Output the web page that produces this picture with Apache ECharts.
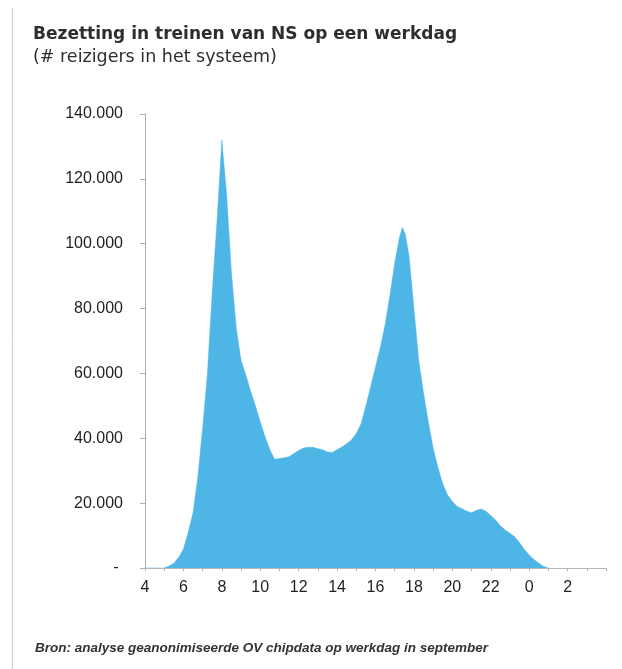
<!DOCTYPE html>
<html>
<head>
<meta charset="utf-8">
<style>
html,body{margin:0;padding:0;background:#ffffff;}
#chart{width:622px;height:669px;}
</style>
<script src="https://cdn.jsdelivr.net/npm/echarts@6/dist/echarts.min.js"></script>
</head>
<body>
<div id="chart"></div>
<script>
// Hour of the day (values past 24 are after midnight)
const hours = [4, 4.5, 5, 5.25, 5.5, 5.75, 6, 6.25, 6.5, 6.75, 7, 7.25, 7.5, 7.75, 8, 8.25, 8.5, 8.75,
  9, 9.25, 9.5, 9.75, 10, 10.25, 10.5, 10.75, 11, 11.25, 11.5, 11.75, 12, 12.25, 12.5, 12.75,
  13, 13.25, 13.5, 13.75, 14, 14.25, 14.5, 14.75, 15, 15.25, 15.5, 15.75, 16, 16.25, 16.5, 16.75,
  17, 17.25, 17.4, 17.55, 17.75, 18, 18.25, 18.5, 18.75, 19, 19.25, 19.5, 19.75, 20, 20.25, 20.5, 20.75,
  21, 21.25, 21.5, 21.75, 22, 22.25, 22.5, 22.75, 23, 23.25, 23.5, 23.75, 24, 24.25, 24.5, 24.75, 25];
// Number of travellers in the system
const travellers = [0, 0, 0, 600, 1500, 3200, 5800, 11000, 17000, 28000, 43000, 60000, 85000, 107000, 132000, 115000, 91000, 74000,
  64000, 59500, 54500, 50000, 45000, 40500, 36500, 33500, 33800, 34000, 34300, 35300, 36200, 37000, 37200, 37200,
  36800, 36500, 35800, 35600, 36500, 37300, 38300, 39500, 41500, 44500, 50000, 56000, 62000, 68000, 75000, 84000,
  94000, 102000, 105000, 103000, 96000, 80000, 64000, 54000, 45000, 37000, 31000, 26000, 22500, 20500, 19000, 18300, 17500,
  17000, 17800, 18200, 17500, 16200, 14800, 13000, 11700, 10700, 9600, 7800, 5700, 4000, 2600, 1500, 500, 0];
// Tick values
const yTicks = [0, 20000, 40000, 60000, 80000, 100000, 120000, 140000];
const xTicks = [4, 6, 8, 10, 12, 14, 16, 18, 20, 22, 24, 26];

const titleText = 'Bezetting in treinen van NS op een werkdag';
const subtitleText = '(# reizigers in het systeem)';
const sourceText = 'Bron: analyse geanonimiseerde OV chipdata op werkdag in september';

const seriesData = hours.map((h, i) => [h, travellers[i]]);

function fmtY(v) {
  if (v === 0) return '- ';
  return String(v).replace(/\B(?=(\d{3})+(?!\d))/g, '.');
}

const chart = echarts.init(document.getElementById('chart'), null, {renderer: 'canvas'});
chart.setOption({
  animation: false,
  backgroundColor: '#ffffff',
  grid: {left: 145, right: 16, top: 114, bottom: 101, containLabel: false},
  xAxis: {
    type: 'value',
    min: xTicks[0],
    max: 28,
    interval: 2,
    splitLine: {show: false},
    axisLine: {show: true, lineStyle: {color: '#b8b8b8', width: 1}},
    axisTick: {show: true, length: 3, lineStyle: {color: '#b0b0b0'}},
    minorTick: {show: true, splitNumber: 2, length: 3, lineStyle: {color: '#b0b0b0'}},
    axisLabel: {
      margin: 12,
      showMaxLabel: false,
      color: '#1f1f1f',
      fontFamily: 'Liberation Sans',
      fontSize: 16,
      formatter: v => (xTicks.indexOf(v) >= 0 ? String(v % 24) : '')
    }
  },
  yAxis: {
    type: 'value',
    min: yTicks[0],
    max: yTicks[yTicks.length - 1],
    interval: 20000,
    splitLine: {show: false},
    axisLine: {show: true, lineStyle: {color: '#b0b0b0', width: 1}},
    axisTick: {show: true, length: 5, lineStyle: {color: '#b0b0b0'}},
    axisLabel: {
      margin: 22,
      color: '#1f1f1f',
      fontFamily: 'Liberation Sans',
      fontSize: 16,
      formatter: fmtY
    }
  },
  series: [{
    type: 'line',
    data: seriesData,
    smooth: false,
    symbol: 'none',
    lineStyle: {width: 0.5, color: '#4db6e6'},
    areaStyle: {color: '#4db6e6', opacity: 1}
  }],
  graphic: [
    {type: 'line', shape: {x1: 12.5, y1: 8, x2: 12.5, y2: 669}, style: {stroke: '#c9cdd6', lineWidth: 1}, silent: true},
    {type: 'text', left: 33, top: 26, style: {text: titleText, fontFamily: 'DejaVu Sans', fontWeight: 'bold', fontSize: 17, fill: '#2e2e2e'}},
    {type: 'text', left: 33, top: 48, style: {text: subtitleText, fontFamily: 'DejaVu Sans', fontSize: 17.5, fill: '#2e2e2e'}},
    {type: 'text', left: 35, top: 641, style: {text: sourceText, fontFamily: 'Liberation Sans', fontStyle: 'italic', fontWeight: 'bold', fontSize: 13.5, fill: '#333333'}}
  ]
});
</script>
</body>
</html>
